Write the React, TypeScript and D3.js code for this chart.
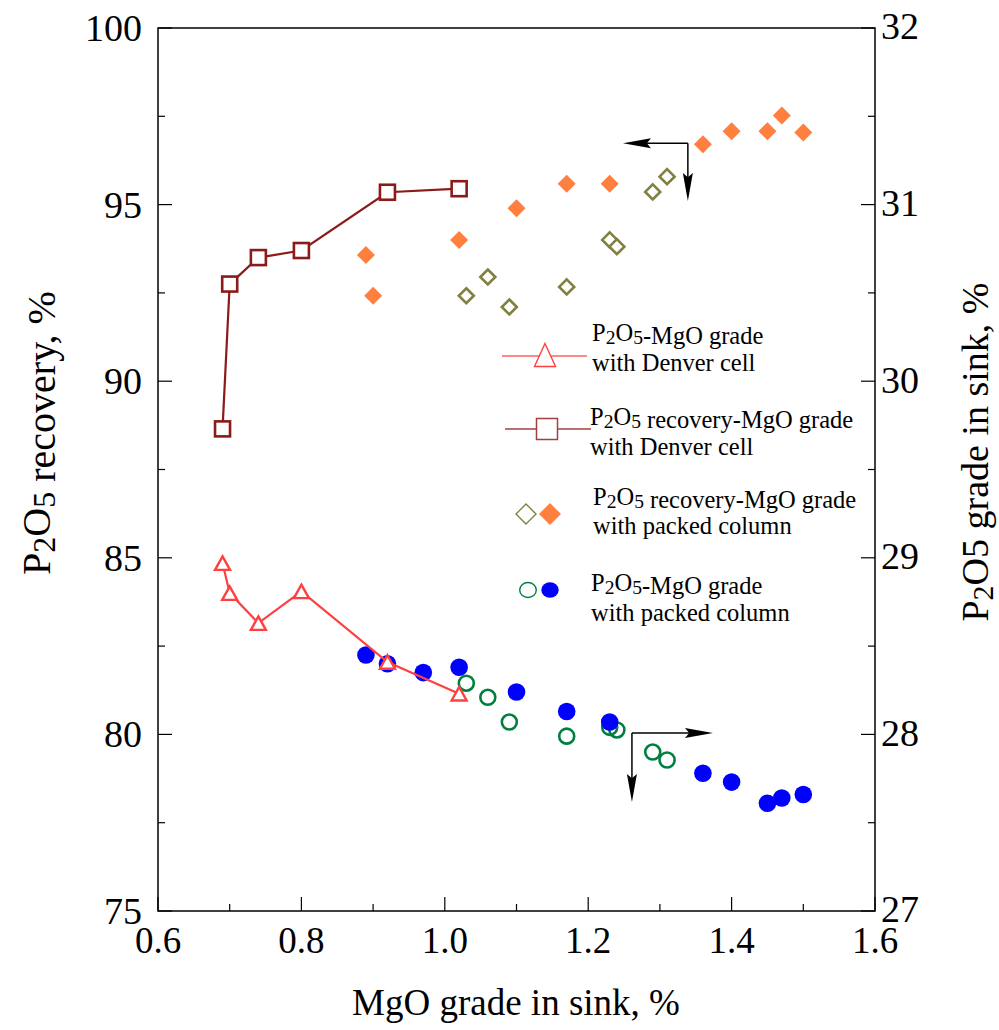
import React from "react";
import * as d3 from "d3";

// MgO grade in sink (%) and the matching P2O5 values, per test series
const mgoDenver = [0.69, 0.7, 0.74, 0.8, 0.92, 1.02];
const recoveryDenver = [88.65, 92.75, 93.5, 93.7, 95.35, 95.45];
const gradeDenver = [28.97, 28.8, 28.63, 28.81, 28.41, 28.23];

const mgoColumnOpen = [1.03, 1.06, 1.09, 1.17, 1.23, 1.24, 1.29, 1.31];
const recoveryColumnOpen = [92.42, 92.95, 92.1, 92.67, 94.0, 93.81, 95.36, 95.79];
const gradeColumnOpen = [28.29, 28.21, 28.07, 27.99, 28.04, 28.025, 27.9, 27.855];

const mgoColumnRecovery = [0.89, 0.9, 1.02, 1.1, 1.17, 1.23, 1.36, 1.4, 1.45, 1.47, 1.5];
const recoveryColumnSolid = [93.57, 92.42, 94.0, 94.9, 95.59, 95.59, 96.71, 97.08, 97.08, 97.52, 97.04];

const mgoColumnGrade = [0.89, 0.92, 0.97, 1.02, 1.1, 1.17, 1.23, 1.36, 1.4, 1.45, 1.47, 1.5];
const gradeColumnSolid = [28.45, 28.4, 28.35, 28.38, 28.24, 28.13, 28.07, 27.78, 27.73, 27.61, 27.64, 27.66];

const xTicks = [0.6, 0.8, 1.0, 1.2, 1.4, 1.6];
const xMinorTicks = [0.7, 0.9, 1.1, 1.3, 1.5];
const leftTicks = [75, 80, 85, 90, 95, 100];
const leftMinorTicks = [77.5, 82.5, 87.5, 92.5, 97.5];
const rightTicks = [27, 28, 29, 30, 31, 32];
const rightMinorTicks = [27.5, 28.5, 29.5, 30.5, 31.5];

// Arrows pointing each group of points to its axis: [corner x, corner y, horizontal end x, vertical end y]
const recoveryArrow = [1.339, 96.74, 1.2485, 95.1];
const gradeArrow = [1.261, 28.008, 1.374, 27.617];

const W = 999;
const H = 1030;
const left = 158;
const right = 875;
const top = 28;
const bottom = 911;

const FONT = "'Liberation Serif', 'Times New Roman', Times, serif";
const DARKRED = "#8B1A1A";
const RED = "#FF4040";
const ORANGE = "#FF7F3F";
const OLIVE = "#808040";
const GREEN = "#008040";
const BLUE = "#0000FF";

const x = d3.scaleLinear().domain([0.6, 1.6]).range([left, right]);
const yL = d3.scaleLinear().domain([75, 100]).range([bottom, top]);
const yR = d3.scaleLinear().domain([27, 32]).range([bottom, top]);

const fmtX = d3.format(".1f");

function triPath(cx: number, cy: number, w: number, h: number) {
  return `M${cx},${cy - h / 2}L${cx + w / 2},${cy + h / 2}L${cx - w / 2},${cy + h / 2}Z`;
}
function diamondPath(cx: number, cy: number, r: number) {
  return `M${cx},${cy - r}L${cx + r},${cy}L${cx},${cy + r}L${cx - r},${cy}Z`;
}

function P2O5({ size }: { size: number }) {
  return (
    <>
      <tspan>P</tspan>
      <tspan fontSize={size * 0.8} dy={size * 0.12}>2</tspan>
      <tspan dy={-size * 0.12}>O</tspan>
      <tspan fontSize={size * 0.8} dy={size * 0.12}>5</tspan>
      <tspan dy={-size * 0.12}></tspan>
    </>
  );
}

function Arrow({ spec, yScale }: { spec: number[]; yScale: d3.ScaleLinear<number, number> }) {
  const cx = x(spec[0]);
  const cy = yScale(spec[1]);
  const hx = x(spec[2]);
  const vy = yScale(spec[3]);
  const dirX = Math.sign(hx - cx);
  const dirY = Math.sign(vy - cy);
  const headLen = 28;
  const headHalf = 5;
  return (
    <g>
      <line x1={cx} y1={cy} x2={hx - dirX * headLen * 0.6} y2={cy} stroke="#000" strokeWidth={1.5} />
      <line x1={cx} y1={cy} x2={cx} y2={vy - dirY * headLen * 0.6} stroke="#000" strokeWidth={1.5} />
      <path
        d={`M${hx},${cy}L${hx - dirX * headLen},${cy - headHalf}L${hx - dirX * headLen * 0.85},${cy}L${hx - dirX * headLen},${cy + headHalf}Z`}
        fill="#000"
      />
      <path
        d={`M${cx},${vy}L${cx - headHalf},${vy - dirY * headLen}L${cx},${vy - dirY * headLen * 0.85}L${cx + headHalf},${vy - dirY * headLen}Z`}
        fill="#000"
      />
    </g>
  );
}

export default function App() {
  const denverRecLine = d3
    .line<number>()
    .x((_, i) => x(mgoDenver[i]))
    .y((d) => yL(d))(recoveryDenver) as string;
  const denverGradeLine = d3
    .line<number>()
    .x((_, i) => x(mgoDenver[i]))
    .y((d) => yR(d))(gradeDenver) as string;

  const legendSize = 24.5;
  const tickSize = 37;

  return (
    <svg
      width={W}
      height={H}
      viewBox={`0 0 ${W} ${H}`}
      style={{ position: "absolute", left: 0, top: 0, background: "#fff" }}
      fontFamily={FONT}
    >
      <rect x={0} y={0} width={W} height={H} fill="#fff" />

      {/* frame */}
      <rect x={left} y={top} width={right - left} height={bottom - top} fill="none" stroke="#000" strokeWidth={1.5} />

      {/* bottom axis ticks */}
      {xTicks.map((t) => (
        <g key={`xt${t}`}>
          <line x1={x(t)} x2={x(t)} y1={bottom} y2={bottom - 14} stroke="#000" strokeWidth={1.2} />
          <text x={x(t)} y={953} fontSize={tickSize} textAnchor="middle">
            {fmtX(t)}
          </text>
        </g>
      ))}
      {xMinorTicks.map((t) => (
        <line key={`xm${t}`} x1={x(t)} x2={x(t)} y1={bottom} y2={bottom - 7} stroke="#000" strokeWidth={1.2} />
      ))}

      {/* left axis */}
      {leftTicks.map((t) => (
        <g key={`lt${t}`}>
          <line x1={left} x2={left + 14} y1={yL(t)} y2={yL(t)} stroke="#000" strokeWidth={1.2} />
          <text x={142} y={yL(t)} dy="0.34em" fontSize={38} textAnchor="end">
            {t}
          </text>
        </g>
      ))}
      {leftMinorTicks.map((t) => (
        <line key={`lm${t}`} x1={left} x2={left + 7} y1={yL(t)} y2={yL(t)} stroke="#000" strokeWidth={1.2} />
      ))}

      {/* right axis */}
      {rightTicks.map((t) => (
        <g key={`rt${t}`}>
          <line x1={right} x2={right - 14} y1={yR(t)} y2={yR(t)} stroke="#000" strokeWidth={1.2} />
          <text x={881} y={yR(t)} dy="0.3em" fontSize={38} textAnchor="start">
            {t}
          </text>
        </g>
      ))}
      {rightMinorTicks.map((t) => (
        <line key={`rm${t}`} x1={right} x2={right - 7} y1={yR(t)} y2={yR(t)} stroke="#000" strokeWidth={1.2} />
      ))}

      {/* axis titles */}
      <text x={516} y={1015} fontSize={37} textAnchor="middle">
        MgO grade in sink, %
      </text>
      <text transform="translate(50,433) rotate(-90)" fontSize={40} textAnchor="middle">
        <P2O5 size={40} /> recovery, %
      </text>
      <text transform="translate(988,452) rotate(-90)" fontSize={38} textAnchor="middle">
        <tspan>P</tspan>
        <tspan fontSize={30} dy={5}>2</tspan>
        <tspan dy={-5}>O5 grade in sink, %</tspan>
      </text>

      {/* packed column, recovery (left axis) */}
      {mgoColumnOpen.map((m, i) => (
        <path key={`od${i}`} d={diamondPath(x(m), yL(recoveryColumnOpen[i]), 7.5)} fill="#fff" stroke={OLIVE} strokeWidth={2.6} />
      ))}
      {mgoColumnRecovery.map((m, i) => (
        <path key={`fd${i}`} d={diamondPath(x(m), yL(recoveryColumnSolid[i]), 9)} fill={ORANGE} />
      ))}

      {/* packed column, grade (right axis) */}
      {mgoColumnOpen.map((m, i) => (
        <circle key={`oc${i}`} cx={x(m)} cy={yR(gradeColumnOpen[i])} r={7.5} fill="none" stroke={GREEN} strokeWidth={2.6} />
      ))}
      {mgoColumnGrade.map((m, i) => (
        <circle key={`fc${i}`} cx={x(m)} cy={yR(gradeColumnSolid[i])} r={8.8} fill={BLUE} />
      ))}

      {/* Denver cell, recovery */}
      <path d={denverRecLine} fill="none" stroke={DARKRED} strokeWidth={2.2} />
      {mgoDenver.map((m, i) => (
        <rect
          key={`sq${i}`}
          x={x(m) - 7.5}
          y={yL(recoveryDenver[i]) - 7.5}
          width={15}
          height={15}
          fill="#fff"
          stroke={DARKRED}
          strokeWidth={2.6}
        />
      ))}

      {/* Denver cell, grade */}
      <path d={denverGradeLine} fill="none" stroke={RED} strokeWidth={2.2} />
      {mgoDenver.map((m, i) => (
        <path key={`tr${i}`} d={triPath(x(m), yR(gradeDenver[i]), 15, 13.5)} fill="#fff" stroke={RED} strokeWidth={2.4} strokeLinejoin="miter" />
      ))}

      {/* arrows */}
      <Arrow spec={recoveryArrow} yScale={yL} />
      <Arrow spec={gradeArrow} yScale={yR} />

      {/* legend */}
      <g fontSize={legendSize}>
        <line x1={502} x2={587} y1={356} y2={356} stroke="#FF6060" strokeWidth={1.5} />
        <path d={triPath(545, 355, 21, 23)} fill="#fff" stroke={RED} strokeWidth={1.4} />
        <text x={592} y={341}>
          <P2O5 size={legendSize} />-MgO grade
        </text>
        <text x={592} y={371}>with Denver cell</text>

        <line x1={505} x2={591} y1={429} y2={429} stroke="#A04040" strokeWidth={1.5} />
        <rect x={536.5} y={418.5} width={21} height={21} fill="#fff" stroke="#A04040" strokeWidth={1.5} />
        <text x={590} y={425}>
          <P2O5 size={legendSize} /> recovery-MgO grade
        </text>
        <text x={590} y={455}>with Denver cell</text>

        <path d={diamondPath(526, 514, 10)} fill="#fff" stroke={OLIVE} strokeWidth={1.4} />
        <path d={diamondPath(550, 514, 11)} fill={ORANGE} />
        <text x={593} y={505}>
          <P2O5 size={legendSize} /> recovery-MgO grade
        </text>
        <text x={593} y={534}>with packed column</text>

        <ellipse cx={528} cy={590} rx={8.3} ry={7.5} fill="#fff" stroke={GREEN} strokeWidth={1.4} />
        <ellipse cx={550} cy={590} rx={8.7} ry={7.8} fill={BLUE} />
        <text x={591} y={591}>
          <P2O5 size={legendSize} />-MgO grade
        </text>
        <text x={591} y={621}>with packed column</text>
      </g>
    </svg>
  );
}
